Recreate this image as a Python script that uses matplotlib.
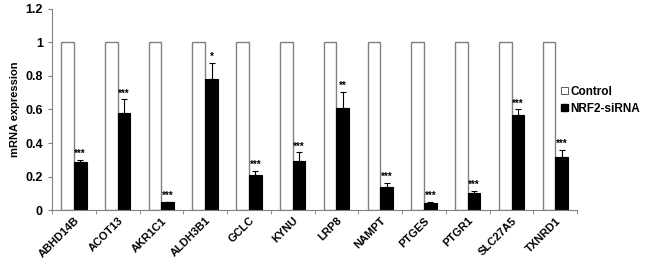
import matplotlib
matplotlib.use("Agg")
import matplotlib.pyplot as plt
import numpy as np
from matplotlib.patches import Patch

genes = ["ABHD14B", "ACOT13", "AKR1C1", "ALDH3B1", "GCLC", "KYNU", "LRP8",
         "NAMPT", "PTGES", "PTGR1", "SLC27A5", "TXNRD1"]
control = [1, 1, 1, 1, 1, 1, 1, 1, 1, 1, 1, 1]
sirna = [0.285, 0.58, 0.046, 0.78, 0.209, 0.294, 0.606, 0.139, 0.04, 0.099, 0.57, 0.314]
sirna_err = [0.015, 0.08, 0.004, 0.10, 0.026, 0.05, 0.10, 0.024, 0.01, 0.016, 0.03, 0.044]
stars = ["***", "***", "***", "*", "***", "***", "**", "***", "***", "***", "***", "***"]
yticks = [0, 0.2, 0.4, 0.6, 0.8, 1, 1.2]
ytick_labels = ["0", "0.2", "0.4", "0.6", "0.8", "1", "1.2"]

plt.rcParams['font.family'] = ['Liberation Sans', 'DejaVu Sans']
plt.rcParams['font.weight'] = 'bold'

fig = plt.figure(figsize=(6.5, 2.64), dpi=100)
ax = fig.add_axes([0.08, 0.2045, 0.808, 0.7615])

x = np.arange(len(genes))
w = 0.29
ax.bar(x - w / 2, control, w, color="white", edgecolor="#808080", linewidth=1.0, zorder=2)
ax.bar(x + w / 2, sirna, w, color="black", edgecolor="black", linewidth=0.8, zorder=2)
ax.errorbar(x + w / 2, sirna, yerr=[np.zeros(len(sirna)), sirna_err], fmt="none",
            ecolor="black", elinewidth=0.8, capsize=2, capthick=0.8, zorder=3)
for xi, v, e, s in zip(x, sirna, sirna_err, stars):
    ax.text(xi + w / 2, v + e + 0.005, s, ha="center", va="bottom", fontsize=7, fontweight="bold")

ax.set_xlim(-0.5, len(genes) - 0.5)
ax.set_ylim(0, 1.2)
ax.set_yticks(yticks)
ax.set_yticklabels(ytick_labels, fontsize=9, fontweight="bold")
ax.set_xticks(x)
ax.set_xticklabels(genes, rotation=45, ha="right", rotation_mode="anchor", fontsize=8, fontweight="bold")
ax.tick_params(axis="x", which="major", length=0, pad=4)
ax.set_xticks(np.arange(-0.5, len(genes), 1), minor=True)
ax.tick_params(axis="x", which="minor", length=3, color="#808080", direction="out")
ax.tick_params(axis="y", length=3, color="#808080", direction="out")
ax.set_ylabel("mRNA expression", fontsize=8, fontweight="bold")
for sp in ["top", "right"]:
    ax.spines[sp].set_visible(False)
for sp in ["left", "bottom"]:
    ax.spines[sp].set_color("#808080")
    ax.spines[sp].set_linewidth(0.8)

handles = [Patch(facecolor="white", edgecolor="#404040", linewidth=0.6, label="Control"),
           Patch(facecolor="black", edgecolor="black", label="NRF2-siRNA")]
fig.legend(handles=handles, loc="upper left", bbox_to_anchor=(0.86, 0.685), frameon=False,
           handlelength=0.6, handleheight=0.6, handletextpad=0.15, labelspacing=0.45,
           borderaxespad=0, borderpad=0.2,
           prop={"weight": "bold", "size": 8.5})

fig.savefig("out.png", dpi=100)
